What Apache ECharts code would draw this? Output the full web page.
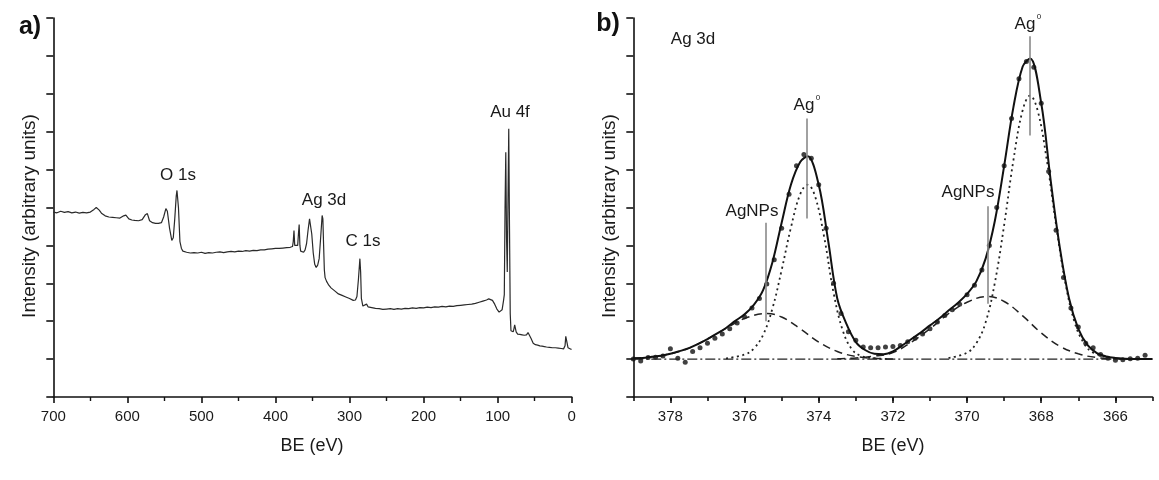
<!DOCTYPE html>
<html><head><meta charset="utf-8">
<script src="https://cdn.jsdelivr.net/npm/echarts@6/dist/echarts.min.js"></script>
<style>html,body{margin:0;padding:0;background:#fff}#c{width:1159px;height:480px}</style>
</head><body><div id="c"></div>
<script>
// ---------- Panel a) survey spectrum ----------
const surveyBE = [700,695,690,685,680,675,670,665,660,655,650,645,642,638,635,630,625,620,615,610,605,602,598,594,590,585,580,576,573,570,566,562,558,554,551,548,546,543,540,538,536,534,533,531,529,527,525,520,515,510,505,500,495,490,485,480,475,470,465,460,455,450,445,440,435,430,425,420,415,410,405,400,395,390,385,380,377,376,375,374,373,372,370,369,368,367,366,364,362,360,358,356,354,353,351,349,347,345,343,341,339,337,336,335,334,333,331,328,325,320,315,310,305,300,295,292,290,288,286,285,284,282,280,277,275,270,265,260,255,250,245,240,235,230,225,220,215,210,205,200,195,190,185,180,175,170,165,160,155,150,145,140,135,130,125,120,115,112,110,107,104,101,98,96,94,92,91,90,89,88,87,86,85,84,83,82,81,80,79,78,77,76,75,73,70,67,64,61,59,57,55,52,49,46,43,40,37,34,30,26,22,18,14,11,9,8,7,6,5,3,1,0];
const surveyI = [4.88,4.86,4.9,4.87,4.89,4.86,4.88,4.85,4.87,4.86,4.88,4.95,5.0,4.93,4.85,4.78,4.75,4.74,4.73,4.72,4.78,4.8,4.7,4.67,4.66,4.65,4.68,4.8,4.84,4.65,4.6,4.58,4.58,4.6,4.75,4.97,4.9,4.45,4.13,4.2,4.7,5.3,5.45,5.0,4.1,3.92,3.85,3.82,3.8,3.81,3.8,3.82,3.79,3.81,3.8,3.82,3.83,3.81,3.83,3.84,3.83,3.85,3.84,3.86,3.85,3.87,3.86,3.88,3.88,3.9,3.91,3.92,3.92,3.93,3.94,3.95,3.97,4.1,4.39,4.0,3.95,3.96,4.0,4.3,4.55,4.0,3.85,3.8,3.82,3.88,4.05,4.4,4.7,4.68,4.3,3.8,3.5,3.42,3.48,3.65,4.2,4.79,4.7,4.0,3.35,3.15,3.05,2.95,2.88,2.8,2.72,2.68,2.64,2.6,2.55,2.56,2.65,3.1,3.65,3.3,2.6,2.4,2.42,2.45,2.38,2.36,2.34,2.33,2.31,2.32,2.33,2.31,2.33,2.32,2.34,2.33,2.35,2.34,2.36,2.35,2.37,2.36,2.38,2.37,2.39,2.38,2.4,2.39,2.41,2.42,2.43,2.44,2.45,2.47,2.5,2.53,2.56,2.59,2.6,2.55,2.45,2.32,2.24,2.22,2.3,2.55,2.7,5.0,6.46,4.2,3.3,5.2,7.08,4.5,2.2,1.75,1.7,1.7,1.72,1.8,1.9,1.88,1.72,1.66,1.65,1.64,1.63,1.64,1.7,1.68,1.55,1.42,1.38,1.37,1.35,1.34,1.33,1.32,1.31,1.3,1.3,1.29,1.28,1.27,1.35,1.6,1.62,1.55,1.3,1.25,1.26,1.26];
const surveyTicks = [700,600,500,400,300,200,100,0];

// ---------- Panel b) Ag 3d high resolution ----------
const dataBE = [379.0,378.8,378.6,378.4,378.2,378.0,377.8,377.6,377.4,377.2,377.0,376.8,376.6,376.4,376.2,376.0,375.8,375.6,375.4,375.2,375.0,374.8,374.6,374.4,374.2,374.0,373.8,373.6,373.4,373.2,373.0,372.8,372.6,372.4,372.2,372.0,371.8,371.6,371.4,371.2,371.0,370.8,370.6,370.4,370.2,370.0,369.8,369.6,369.4,369.2,369.0,368.8,368.6,368.4,368.2,368.0,367.8,367.6,367.4,367.2,367.0,366.8,366.6,366.4,366.2,366.0,365.8,365.6,365.4,365.2];
const dataI = [1.0,0.95,1.04,1.05,1.08,1.27,1.02,0.92,1.2,1.3,1.42,1.55,1.66,1.8,1.95,2.12,2.35,2.6,2.98,3.62,4.45,5.35,6.1,6.4,6.3,5.6,4.45,3.0,2.2,1.72,1.5,1.32,1.3,1.3,1.32,1.33,1.36,1.46,1.55,1.66,1.8,1.98,2.15,2.3,2.45,2.7,2.95,3.35,4.0,5.0,6.1,7.35,8.4,8.85,8.7,7.75,5.95,4.4,3.15,2.35,1.85,1.42,1.3,1.12,1.02,0.97,0.98,1.01,1.02,1.1];

const fitBE = [379.0,378.75,378.5,378.25,378.0,377.75,377.5,377.25,377.0,376.75,376.5,376.25,376.0,375.75,375.5,375.25,375.0,374.75,374.5,374.3,374.0,373.75,373.5,373.25,373.0,372.75,372.5,372.25,372.0,371.75,371.5,371.25,371.0,370.75,370.5,370.25,370.0,369.75,369.5,369.25,369.0,368.75,368.5,368.3,368.0,367.75,367.5,367.25,367.0,366.75,366.5,366.25,366.0,365.75,365.5,365.25,365.0];
const fitI = [1.02,1.03,1.06,1.09,1.14,1.21,1.29,1.40,1.53,1.67,1.82,2.01,2.18,2.43,2.82,3.55,4.6,5.6,6.2,6.35,5.6,4.15,2.6,1.92,1.45,1.24,1.14,1.13,1.2,1.36,1.53,1.70,1.89,2.07,2.28,2.48,2.72,3.05,3.65,4.65,6.1,7.65,8.72,8.93,7.75,5.75,3.95,2.6,1.8,1.37,1.16,1.07,1.03,1.01,1.0,1.0,1.0];

const ag0LeftBE = [376.5,376.0,375.75,375.5,375.25,375.0,374.75,374.5,374.3,374.1,373.85,373.6,373.35,373.1,372.85,372.6,372.1];
const ag0LeftI = [1.02,1.12,1.28,1.64,2.33,3.35,4.47,5.35,5.6,5.3,4.2,2.75,1.75,1.25,1.08,1.03,1.0];
const ag0RightBE = [370.5,370.0,369.75,369.5,369.25,369.0,368.75,368.5,368.3,368.1,367.85,367.6,367.35,367.1,366.85,366.6,366.1];
const ag0RightI = [1.03,1.17,1.42,1.97,3.02,4.54,6.25,7.57,7.95,7.57,6.25,4.54,3.02,1.97,1.42,1.17,1.03];

const npLeftBE = [379.0,378.5,378.0,377.5,377.0,376.5,376.0,375.4,375.0,374.5,374.0,373.5,373.0,372.5,372.0];
const npLeftI = [1.02,1.06,1.14,1.29,1.53,1.81,2.07,2.2,2.11,1.80,1.45,1.20,1.07,1.02,1.0];
const npRightBE = [373.5,373.0,372.5,372.0,371.5,371.0,370.5,370.0,369.45,369.0,368.5,368.0,367.5,367.0,366.5,366.0,365.5];
const npRightI = [1.01,1.03,1.08,1.17,1.45,1.8,2.2,2.5,2.65,2.52,2.14,1.69,1.34,1.14,1.04,1.01,1.0];

const baselineBE = [379, 365];
const baselineI = [1, 1];

const markerBE = [374.32, 375.43, 368.32, 369.44];
const markerLow = [4.71, 2.0, 6.9, 2.46];
const markerHigh = [7.35, 4.6, 9.52, 5.03];

const hrTicks = [378,376,374,372,370,368,366];

// ---------- build ----------
const zip = (a, b) => a.map((x, i) => [x, b[i]]);
const FONT = '"Liberation Sans", Arial, sans-serif';
const axCol = '#111';

function xAxisCfg(grid, min, max, interval, labelSet, minor, tickLen) {
  return {
    gridIndex: grid, type: 'value', min: min, max: max, interval: interval, inverse: true,
    axisLine: { show: true, onZero: false, lineStyle: { color: axCol, width: 1.6 } },
    axisTick: { show: true, length: tickLen, lineStyle: { color: axCol, width: 1.6 } },
    minorTick: minor ? { show: true, splitNumber: 2, length: 4, lineStyle: { color: axCol, width: 1.4 } } : { show: false },
    axisLabel: { fontSize: 15, color: '#1a1a1a', fontFamily: FONT, margin: 12,
      formatter: v => labelSet.indexOf(Math.round(v)) >= 0 && Math.abs(v - Math.round(v)) < 1e-6 ? String(Math.round(v)) : '' },
    splitLine: { show: false }
  };
}
function yAxisCfg(grid) {
  return {
    gridIndex: grid, type: 'value', min: 0, max: 10, interval: 1,
    axisLine: { show: true, onZero: false, lineStyle: { color: axCol, width: 1.6 } },
    axisTick: { show: true, length: 7, lineStyle: { color: axCol, width: 1.6 } },
    axisLabel: { show: false }, splitLine: { show: false }
  };
}

const markData = markerBE.map((x, i) => [{ coord: [x, markerLow[i]] }, { coord: [x, markerHigh[i]] }]);

const txt = (t, x, y, size, extra) => ({ type: 'text', x: x, y: y, silent: true,
  style: Object.assign({ text: t, fontSize: size, fontFamily: FONT, fill: '#1a1a1a', align: 'center', verticalAlign: 'middle' }, extra || {}) });

// second x axis on panel b only for longer major ticks at labelled values
const majorTickAxis = {
  gridIndex: 1, type: 'value', min: 365, max: 379, inverse: true, position: 'bottom',
  axisLine: { show: false },
  axisTick: { show: true, length: 6, customValues: hrTicks, lineStyle: { color: axCol, width: 1.6 } },
  axisLabel: { show: false }, splitLine: { show: false }
};

const option = {
  animation: false,
  backgroundColor: '#fff',
  grid: [
    { left: 53.3, top: 18, width: 518.4, height: 379 },
    { left: 633.3, top: 18, width: 519.2, height: 379 }
  ],
  xAxis: [
    xAxisCfg(0, 0, 700, 100, surveyTicks, true, 6),
    xAxisCfg(1, 365, 379, 1, hrTicks, false, 4),
    majorTickAxis
  ],
  yAxis: [yAxisCfg(0), yAxisCfg(1)],
  series: [
    { type: 'line', xAxisIndex: 0, yAxisIndex: 0, data: zip(surveyBE, surveyI), showSymbol: false,
      lineStyle: { color: '#2a2a2a', width: 1.2 } },
    { type: 'line', xAxisIndex: 1, yAxisIndex: 1, data: zip(baselineBE, baselineI), showSymbol: false,
      lineStyle: { color: '#222', width: 1.3, type: [10, 3, 2, 3] },
      markLine: { silent: true, symbol: ['none', 'none'], label: { show: false },
        lineStyle: { color: '#8a8a8a', width: 1.6, type: 'solid' }, data: markData } },
    { type: 'line', xAxisIndex: 1, yAxisIndex: 1, data: zip(npLeftBE, npLeftI), showSymbol: false, smooth: 0.4,
      lineStyle: { color: '#222', width: 1.5, type: [8, 5] } },
    { type: 'line', xAxisIndex: 1, yAxisIndex: 1, data: zip(npRightBE, npRightI), showSymbol: false, smooth: 0.4,
      lineStyle: { color: '#222', width: 1.5, type: [8, 5] } },
    { type: 'line', xAxisIndex: 1, yAxisIndex: 1, data: zip(ag0LeftBE, ag0LeftI), showSymbol: false, smooth: 0.4,
      lineStyle: { color: '#222', width: 1.8, type: [2, 3.5] } },
    { type: 'line', xAxisIndex: 1, yAxisIndex: 1, data: zip(ag0RightBE, ag0RightI), showSymbol: false, smooth: 0.4,
      lineStyle: { color: '#222', width: 1.8, type: [2, 3.5] } },
    { type: 'line', xAxisIndex: 1, yAxisIndex: 1, data: zip(fitBE, fitI), showSymbol: false, smooth: 0.35,
      lineStyle: { color: '#111', width: 2 } },
    { type: 'scatter', xAxisIndex: 1, yAxisIndex: 1, data: zip(dataBE, dataI), symbolSize: 5,
      itemStyle: { color: '#111' } }
  ],
  graphic: [
    txt('a)', 30, 27, 25, { fontWeight: 'bold', fill: '#111' }),
    txt('b)', 608, 24, 25, { fontWeight: 'bold', fill: '#111' }),
    txt('Intensity (arbitrary units)', 30, 216, 19, { }),
    txt('Intensity (arbitrary units)', 610, 216, 19, { }),
    txt('BE (eV)', 312, 446, 18),
    txt('BE (eV)', 893, 446, 18),
    txt('O 1s', 178, 175, 17),
    txt('Ag 3d', 324, 200, 17),
    txt('C 1s', 363, 241, 17),
    txt('Au 4f', 510, 112, 17),
    txt('Ag 3d', 693, 39, 17),
    txt('Ag', 804, 105, 17),
    txt('0', 818, 98, 8),
    txt('AgNPs', 752, 211, 17),
    txt('Ag', 1025, 24, 17),
    txt('0', 1039, 17, 8),
    txt('AgNPs', 968, 192, 17)
  ]
};
option.graphic[2].rotation = Math.PI / 2;
option.graphic[3].rotation = Math.PI / 2;

const chart = echarts.init(document.getElementById('c'), null, { renderer: 'canvas' });
chart.setOption(option);
</script>
</body></html>
